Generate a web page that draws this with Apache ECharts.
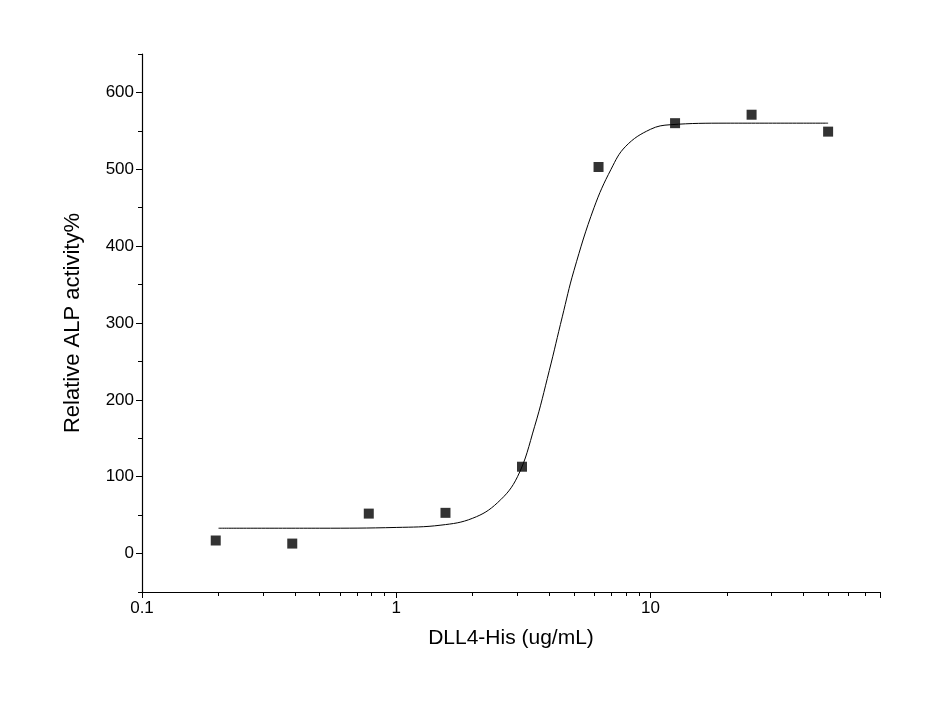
<!DOCTYPE html>
<html><head><meta charset="utf-8">
<script src="https://cdn.jsdelivr.net/npm/echarts@6/dist/echarts.min.js"></script>
<style>html,body{margin:0;background:#fff}#c{width:934px;height:713px}</style></head>
<body><div id="c"></div>
<script>
const pointX = [0.195, 0.39, 0.78, 1.5625, 3.125, 6.25, 12.5, 25, 50];
const pointY = [17, 13, 52, 53, 113, 503, 560, 571, 549];
const curveX = [0.2, 0.5, 1, 1.5, 2, 2.5, 3, 3.5, 4, 4.5, 5, 6, 7, 8, 10, 12, 20, 50];
const curveY = [33, 33, 34, 37, 46, 66, 100, 165, 238, 308, 368, 450, 500, 530, 552, 558, 560, 560];
const yTicks = [0, 100, 200, 300, 400, 500, 600];
const yMinorTicks = [-50, 50, 150, 250, 350, 450, 550, 650];
const chart = echarts.init(document.getElementById('c'));
const font = 'Arial, "Liberation Sans", sans-serif';
chart.setOption({
  animation: false,
  grid: {left: 142, right: 54, top: 54, bottom: 121},
  xAxis: {type: 'log', min: 0.1, max: 80, logBase: 10,
    name: 'DLL4-His (ug/mL)', nameLocation: 'middle', nameGap: 36,
    nameTextStyle: {fontSize: 21, color: '#000', fontFamily: font},
    axisLine: {onZero: false, lineStyle: {color: '#000', width: 1.2}},
    axisTick: {lineStyle: {color: '#000'}, length: 6},
    minorTick: {show: true, splitNumber: 9, length: 4, lineStyle: {color: '#000'}},
    axisLabel: {fontSize: 17, color: '#000', fontFamily: font, showMaxLabel: false},
    splitLine: {show: false}},
  yAxis: [{type: 'value', min: -50, max: 650,
    name: 'Relative ALP activity%', nameLocation: 'middle', nameGap: 58,
    nameTextStyle: {fontSize: 22, color: '#000', fontFamily: font},
    axisLine: {show: true, lineStyle: {color: '#000', width: 1.2}},
    axisTick: {show: true, customValues: yTicks, lineStyle: {color: '#000'}, length: 6},
    axisLabel: {fontSize: 17, color: '#000', fontFamily: font, customValues: yTicks},
    splitLine: {show: false}},
   {type: 'value', min: -50, max: 650, position: 'left',
    axisLine: {show: false},
    axisTick: {show: true, customValues: yMinorTicks, lineStyle: {color: '#000'}, length: 4},
    axisLabel: {show: false, customValues: yMinorTicks},
    splitLine: {show: false}}],
  series: [
    {type: 'line', data: curveX.map((x, i) => [x, curveY[i]]), smooth: 0.4, showSymbol: false,
     lineStyle: {color: '#000', width: 1}},
    {type: 'scatter', data: pointX.map((x, i) => [x, pointY[i]]), symbol: 'rect', symbolSize: 10,
     itemStyle: {color: '#000'}}
  ]
});
</script></body></html>
